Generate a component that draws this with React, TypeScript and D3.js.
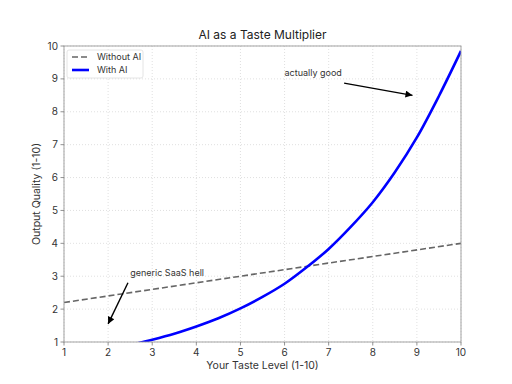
import React from "react";
import * as d3 from "d3";

const tasteLevels = [1, 10];
const withoutAI = [2.2, 4.0];
const aiTaste = [2.5, 3, 3.5, 4, 4.5, 5, 5.5, 6, 6.5, 7, 7.5, 8, 8.5, 9, 9.5, 10];
const withAI = [0.91, 1.07, 1.25, 1.47, 1.72, 2.02, 2.37, 2.77, 3.27, 3.83, 4.5, 5.25, 6.16, 7.22, 8.48, 9.85];
const xTicks = [1, 2, 3, 4, 5, 6, 7, 8, 9, 10];
const yTicks = [1, 2, 3, 4, 5, 6, 7, 8, 9, 10];
const annotations = [
  { text: "actually good", tx: 6.0, ty: 9.1, sx: 7.35, sy: 8.87, ex: 8.9, ey: 8.5 },
  { text: "generic SaaS hell", tx: 2.5, ty: 3.0, sx: 2.45, sy: 2.8, ex: 2.0, ey: 1.55 },
];

export default function App() {
  const W = 512, H = 384;
  const L = 64, R = 461, T = 46, B = 342;
  const x = d3.scaleLinear().domain([1, 10]).range([L, R]);
  const y = d3.scaleLinear().domain([1, 10]).range([B, T]);
  const font = "Inter, 'Noto Sans', sans-serif";
  const lineA = d3.line<number>().x((d, i) => x(tasteLevels[i])).y((d) => y(d));
  const lineB = d3.line<number>().x((d, i) => x(aiTaste[i])).y((d) => y(d)).curve(d3.curveCatmullRom.alpha(0.5));

  return (
    <svg width={W} height={H} style={{ position: "absolute", left: 0, top: 0, background: "#fff" }} fontFamily={font}>
      <defs>
        <clipPath id="plot"><rect x={L} y={T} width={R - L} height={B - T} /></clipPath>
        <marker id="ah" viewBox="0 0 10 10" refX="10" refY="5" markerWidth="9" markerHeight="7" markerUnits="userSpaceOnUse" orient="auto">
          <path d="M0,0 L10,5 L0,10 z" fill="#000" />
        </marker>
      </defs>
      <rect x={0} y={0} width={W} height={H} fill="#fff" />
      {xTicks.map((t) => (
        <line key={"gx" + t} x1={x(t)} x2={x(t)} y1={T} y2={B} stroke="#d8d8d8" strokeWidth={0.8} strokeDasharray="1,2" />
      ))}
      {yTicks.map((t) => (
        <line key={"gy" + t} x1={L} x2={R} y1={y(t)} y2={y(t)} stroke="#d8d8d8" strokeWidth={0.8} strokeDasharray="1,2" />
      ))}
      <g clipPath="url(#plot)">
        <path d={lineA(withoutAI) || ""} fill="none" stroke="#666" strokeWidth={1.6} strokeDasharray="6,3" />
        <path d={lineB(withAI) || ""} fill="none" stroke="#0000ff" strokeWidth={2.6} />
      </g>
      <rect x={L} y={T} width={R - L} height={B - T} fill="none" stroke="#999" strokeWidth={0.9} />
      {xTicks.map((t) => (
        <g key={"xt" + t}>
          <line x1={x(t)} x2={x(t)} y1={B} y2={B + 3.5} stroke="#777" strokeWidth={0.8} />
          <text x={x(t)} y={B + 14} textAnchor="middle" fontSize={10} fill="#333">{t}</text>
        </g>
      ))}
      {yTicks.map((t) => (
        <g key={"yt" + t}>
          <line x1={L - 3.5} x2={L} y1={y(t)} y2={y(t)} stroke="#777" strokeWidth={0.8} />
          <text x={L - 6} y={y(t) + 3.5} textAnchor="end" fontSize={10} fill="#333">{t}</text>
        </g>
      ))}
      <text x={(L + R) / 2} y={39} textAnchor="middle" fontSize={12} fill="#222">AI as a Taste Multiplier</text>
      <text x={(L + R) / 2} y={369} textAnchor="middle" fontSize={10.5} fill="#333">Your Taste Level (1-10)</text>
      <text transform={`translate(40, ${(T + B) / 2}) rotate(-90)`} textAnchor="middle" fontSize={10.5} fill="#333">Output Quality (1-10)</text>
      {annotations.map((a) => (
        <g key={a.text}>
          <text x={x(a.tx)} y={y(a.ty)} fontSize={9} fill="#333">{a.text}</text>
          <line x1={x(a.sx)} y1={y(a.sy)} x2={x(a.ex)} y2={y(a.ey)} stroke="#000" strokeWidth={1.4} markerEnd="url(#ah)" />
        </g>
      ))}
      <g>
        <rect x={67} y={50} width={76} height={28} fill="#fff" stroke="#ddd" strokeWidth={0.8} rx={2} />
        <line x1={72} x2={88} y1={57} y2={57} stroke="#666" strokeWidth={1.6} strokeDasharray="6,3" />
        <text x={97} y={60} fontSize={9} fill="#333">Without AI</text>
        <line x1={72} x2={89} y1={70} y2={70} stroke="#0000ff" strokeWidth={2.6} />
        <text x={97} y={73} fontSize={9} fill="#333">With AI</text>
      </g>
    </svg>
  );
}
